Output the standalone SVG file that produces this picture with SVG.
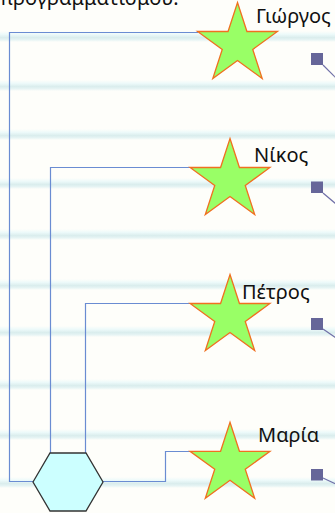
<svg xmlns="http://www.w3.org/2000/svg" xmlns:xlink="http://www.w3.org/1999/xlink" width="335" height="513" viewBox="0 0 335 513">
  <style>
    .lbl { font-family: "Noto Sans", "Liberation Sans", sans-serif; font-size: 20px; fill: #111; }
    .stripe { fill: url(#stripeGrad); }
    .conn { fill: none; stroke: #6A8CD2; stroke-width: 1.2; }
    .link { fill: none; stroke: #7070A8; stroke-width: 1.2; }
    .star { fill: #99FF66; stroke: #F07020; stroke-width: 1.3; stroke-linejoin: miter; }
    .hex { fill: #CCFFFF; stroke: #333333; stroke-width: 1.3; }
    .sq { fill: #666699; }
  </style>
  <defs>
    <linearGradient id="stripeGrad" x1="0" y1="0" x2="0" y2="1">
      <stop offset="0" stop-color="#FEFEFA"/>
      <stop offset="0.3" stop-color="#EDFAFA"/>
      <stop offset="0.6" stop-color="#DAEDED"/>
      <stop offset="0.8" stop-color="#E6F4F4"/>
      <stop offset="1" stop-color="#FEFEFA"/>
    </linearGradient>
    <path id="starShape" d="M0,-42 L9.43,-12.98 L39.94,-12.98 L15.26,4.96 L24.69,33.98 L0,16.04 L-24.69,33.98 L-15.26,4.96 L-39.94,-12.98 L-9.43,-12.98 Z"/>
  </defs>

  <g id="background">
    <rect x="0" y="0" width="335" height="513" fill="#FEFEFA"/>
    <rect class="stripe" x="0" y="31" width="335" height="11"/>
    <rect class="stripe" x="0" y="80" width="335" height="11"/>
    <rect class="stripe" x="0" y="129" width="335" height="11"/>
    <rect class="stripe" x="0" y="178" width="335" height="11"/>
    <rect class="stripe" x="0" y="229" width="335" height="11"/>
    <rect class="stripe" x="0" y="279" width="335" height="11"/>
    <rect class="stripe" x="0" y="326" width="335" height="11"/>
    <rect class="stripe" x="0" y="379" width="335" height="11"/>
    <rect class="stripe" x="0" y="429" width="335" height="11"/>
    <rect class="stripe" x="0" y="477" width="335" height="11"/>
  </g>

  <text id="title" class="lbl" x="0" y="5">προγραμματισμού.</text>

  <g id="connectors">
    <path class="conn" d="M198,32.5 H9.5 V481.5 H33"/>
    <path class="conn" d="M190,167.5 H50.5 V453"/>
    <path class="conn" d="M190,303.5 H85.5 V453"/>
    <path class="conn" d="M103,481.5 H165.5 V451.5 H190"/>
    <path class="link" d="M323,65 L336,78"/>
    <path class="link" d="M323,193 L336,204"/>
    <path class="link" d="M323,329 L336,338"/>
    <path class="link" d="M323,478 L336,484"/>
  </g>

  <g id="hub">
    <polygon class="hex" points="33,482 50,453 86,453 103,482 86,511 50,511"/>
  </g>

  <g id="giorgos">
    <use xlink:href="#starShape" class="star" transform="translate(237.5,44.5)"/>
    <text class="lbl" x="256" y="22.5">Γιώργος</text>
    <rect class="sq" x="311" y="53" width="12" height="12"/>
  </g>

  <g id="nikos">
    <use xlink:href="#starShape" class="star" transform="translate(230,180.5)"/>
    <text class="lbl" x="254" y="161.5">Νίκος</text>
    <rect class="sq" x="311" y="181.5" width="12" height="11.5"/>
  </g>

  <g id="petros">
    <use xlink:href="#starShape" class="star" transform="translate(230,316.5)"/>
    <text class="lbl" x="242" y="299">Πέτρος</text>
    <rect class="sq" x="311" y="318" width="12" height="12"/>
  </g>

  <g id="maria">
    <use xlink:href="#starShape" class="star" transform="translate(230,464.3)"/>
    <text class="lbl" x="258" y="442">Μαρία</text>
    <rect class="sq" x="311" y="469" width="12" height="11.5"/>
  </g>
</svg>
